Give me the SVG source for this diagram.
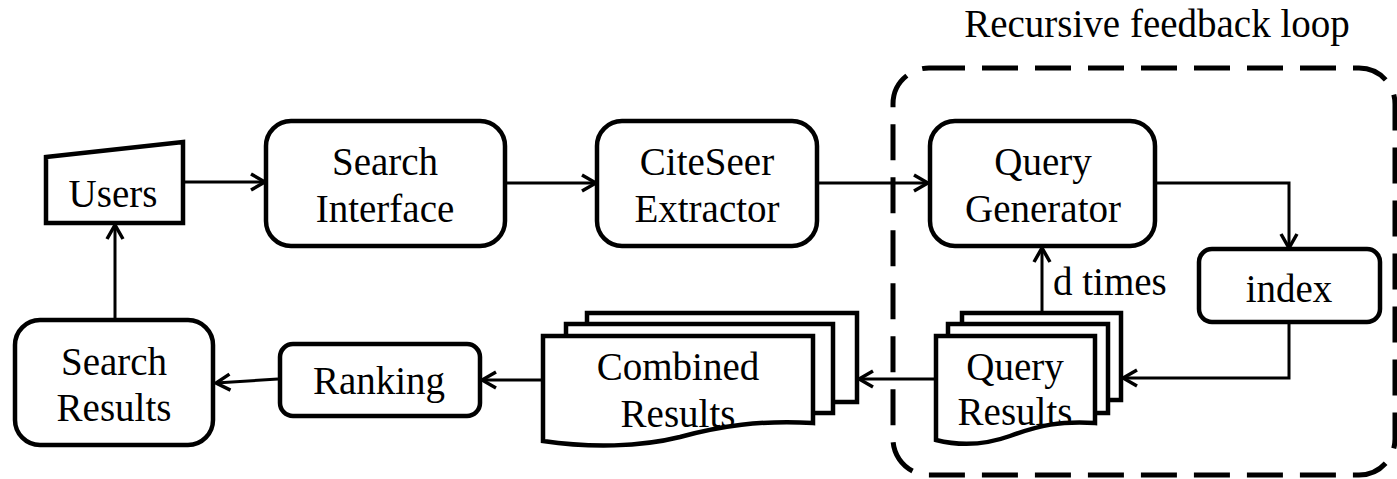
<svg xmlns="http://www.w3.org/2000/svg" width="1397" height="479" viewBox="0 0 1397 479">
<style>
.box{fill:#fff;stroke:#000;stroke-width:4.5}
.page{fill:#fff;stroke:#000;stroke-width:4.5;stroke-linejoin:miter}
.lbl{font-family:"Liberation Serif","Times New Roman",serif;font-size:39px;fill:#000;text-anchor:middle}
.conn{fill:none;stroke:#000;stroke-width:3}
.dash{fill:none;stroke:#000;stroke-width:5;stroke-dasharray:36 17}
</style>
<defs>
<marker id="arr" viewBox="0 0 18 20" refX="16" refY="10" markerWidth="18" markerHeight="20" markerUnits="userSpaceOnUse" orient="auto">
<path d="M2,2 L16,10 L2,18" fill="none" stroke="#000" stroke-width="3.5" stroke-linejoin="miter"/>
</marker>
</defs>
<rect fill="#fff" x="0" y="0" width="1397" height="479"/>

<g id="loop">
<rect class="dash" x="893" y="68" width="502" height="407" rx="36" ry="36"/>
<text class="lbl" x="1157" y="37">Recursive feedback loop</text>
</g>

<g id="connectors">
<line class="conn" x1="185" y1="182" x2="265" y2="182" marker-end="url(#arr)"/>
<line class="conn" x1="507" y1="183" x2="596" y2="183" marker-end="url(#arr)"/>
<line class="conn" x1="819" y1="183" x2="928" y2="183" marker-end="url(#arr)"/>
<polyline class="conn" points="1157,183 1289,183 1289,248" marker-end="url(#arr)"/>
<polyline class="conn" points="1289,323 1289,378 1123,378" marker-end="url(#arr)"/>
<line class="conn" x1="1042" y1="312" x2="1042" y2="248" marker-end="url(#arr)"/>
<line class="conn" x1="934" y1="379" x2="859" y2="379" marker-end="url(#arr)"/>
<line class="conn" x1="541" y1="380" x2="482" y2="380" marker-end="url(#arr)"/>
<line class="conn" x1="278" y1="379" x2="216" y2="383" marker-end="url(#arr)"/>
<line class="conn" x1="115" y1="318" x2="115" y2="225" marker-end="url(#arr)"/>
</g>

<g id="users">
<polygon class="box" points="46,157 183,142 183,223 46,223"/>
<text class="lbl" x="113" y="207">Users</text>
</g>

<g id="search-interface">
<rect class="box" x="266" y="121" width="239" height="125" rx="25"/>
<text class="lbl" x="385" y="175">Search</text>
<text class="lbl" x="385" y="222">Interface</text>
</g>

<g id="citeseer-extractor">
<rect class="box" x="597" y="121" width="220" height="125" rx="25"/>
<text class="lbl" x="707" y="175">CiteSeer</text>
<text class="lbl" x="707" y="222">Extractor</text>
</g>

<g id="query-generator">
<rect class="box" x="930" y="121" width="225" height="125" rx="25"/>
<text class="lbl" x="1043" y="175">Query</text>
<text class="lbl" x="1043" y="222">Generator</text>
</g>

<g id="index">
<rect class="box" x="1199" y="249" width="181" height="73" rx="13"/>
<text class="lbl" x="1289" y="302">index</text>
</g>

<g id="d-times">
<text class="lbl" x="1053" y="295" style="text-anchor:start">d times</text>
</g>

<g id="query-results">
<rect class="page" x="962" y="313" width="159" height="87"/>
<rect class="page" x="948" y="324" width="160" height="89"/>
<path class="page" d="M936,336 H1095 V423 C1060,421 1040,425 1010,436 C985,445 960,446 936,440 Z"/>
<text class="lbl" x="1015" y="380">Query</text>
<text class="lbl" x="1015" y="425">Results</text>
</g>

<g id="combined-results">
<rect class="page" x="587" y="313" width="270" height="89"/>
<rect class="page" x="566" y="324" width="267" height="89"/>
<path class="page" d="M543,336 H813 V423 C760,420 720,426 680,437 C640,447 590,448 543,441 Z"/>
<text class="lbl" x="678" y="380">Combined</text>
<text class="lbl" x="678" y="427">Results</text>
</g>

<g id="ranking">
<rect class="box" x="280" y="344" width="200" height="72" rx="13"/>
<text class="lbl" x="379" y="394">Ranking</text>
</g>

<g id="search-results">
<rect class="box" x="15" y="320" width="198" height="125" rx="25"/>
<text class="lbl" x="114" y="375">Search</text>
<text class="lbl" x="114" y="421">Results</text>
</g>
</svg>
